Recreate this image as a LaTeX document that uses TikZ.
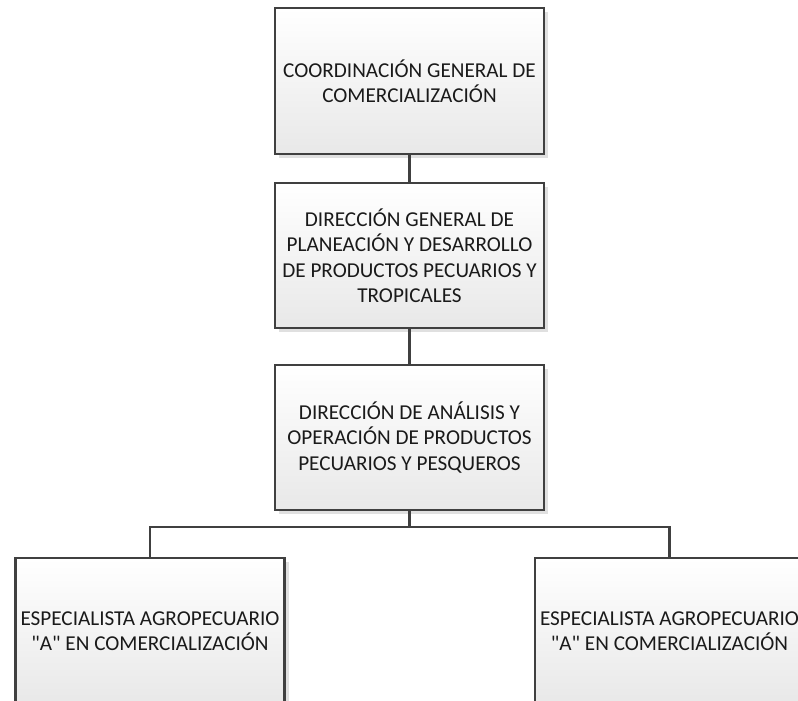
\documentclass[tikz,border=0pt]{standalone}
\usepackage{fontspec}
\setmainfont{Carlito}[Ligatures=TeXOff]
\usetikzlibrary{shadows}
\definecolor{edge}{HTML}{404040}
\definecolor{ink}{HTML}{1A1A1A}
\tikzset{
  unit/.style={draw=edge, line width=2.5pt, minimum width=269pt, minimum height=146pt,
    inner sep=0pt, align=center, text=ink, top color=white, bottom color=black!9,
    font=\fontsize{21.2}{25.5}\selectfont,
    drop shadow={shadow xshift=4pt, shadow yshift=-4pt, fill=black!12, opacity=1}},
  link/.style={draw=edge, line width=2.5pt}
}
\begin{document}
\begin{tikzpicture}[x=1pt, y=-1pt]
  \useasboundingbox (0,0) rectangle (798,701);
  \clip (0,0) rectangle (798,701);
  \node[unit] (b1) at (409.5,81) {COORDINACIÓN GENERAL DE\\COMERCIALIZACIÓN};
  \node[unit, minimum height=145pt] (b2) at (409.5,255.5) {DIRECCIÓN GENERAL DE\\PLANEACIÓN Y DESARROLLO\\DE PRODUCTOS PECUARIOS Y\\TROPICALES};
  \node[unit, minimum height=145pt] (b3) at (409.5,437.5) {DIRECCIÓN DE ANÁLISIS Y\\OPERACIÓN DE PRODUCTOS\\PECUARIOS Y PESQUEROS};
  \node[unit] (b4) at (150,631) {ESPECIALISTA AGROPECUARIO\\"A" EN COMERCIALIZACIÓN};
  \node[unit] (b5) at (669.5,631) {ESPECIALISTA AGROPECUARIO\\"A" EN COMERCIALIZACIÓN};
  \coordinate (j) at (409.5,527);
  \draw[link] (b1) -- (b2);
  \draw[link] (b2) -- (b3);
  \draw[link] (b3) -- (j);
  \draw[link] (b4.north) |- (j) -| (b5.north);
\end{tikzpicture}
\end{document}
